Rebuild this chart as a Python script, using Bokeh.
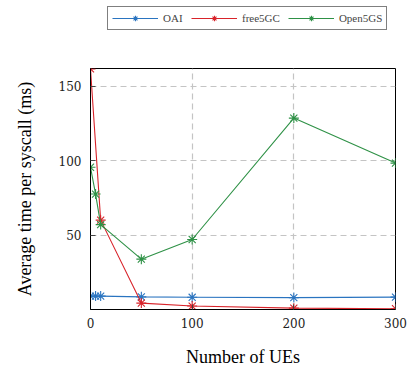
from bokeh.plotting import figure
from bokeh.layouts import column
from bokeh.models import Range1d, Legend, LegendItem, FixedTicker
from bokeh.embed import file_html
from bokeh.resources import INLINE

# Data
oai_x = [0, 5, 10, 50, 100, 200, 300]
oai_y = [9.0, 9.0, 9.0, 8.5, 8.2, 8.0, 8.3]
free_x = [0, 10, 50, 100, 200, 300]
free_y = [161.5, 60.0, 4.3, 2.3, 0.9, 0.5]
open_x = [0, 5, 10, 50, 100, 200, 300]
open_y = [95.5, 77.5, 57.0, 33.8, 47.0, 128.5, 98.3]
x_ticks = [0, 100, 200, 300]
y_ticks = [50, 100, 150]

series = [
    ("OAI", oai_x, oai_y, "#2a74c0"),
    ("free5GC", free_x, free_y, "#d8232a"),
    ("Open5GS", open_x, open_y, "#2e9146"),
]

FONT = "Liberation Serif"
TICKFONT = "DejaVu Serif"
TOP_H = 38

# Main plot
p = figure(width=417, height=369 - TOP_H, output_backend="svg", toolbar_location=None,
           x_range=Range1d(0, 300), y_range=Range1d(0, 161.8),
           min_border_left=90, min_border_right=22, min_border_top=68 - TOP_H,
           min_border_bottom=54)
p.background_fill_color = "white"
p.border_fill_color = "white"
p.outline_line_color = "black"
p.outline_line_width = 1

for name, xs, ys, col in series:
    p.line(xs, ys, line_color=col, line_width=1.1)
    p.scatter(xs, ys, marker="asterisk", size=10, line_color=col, line_width=1.1)

for ax in (p.xaxis[0], p.yaxis[0]):
    ax.axis_line_color = "black"
    ax.major_tick_in = 5
    ax.major_tick_out = 0
    ax.major_tick_line_color = "#444444"
    ax.minor_tick_line_color = None
    ax.major_label_text_font = TICKFONT
    ax.major_label_text_font_size = "12px"
    ax.major_label_text_color = "#222222"
    ax.axis_label_text_font = FONT
    ax.axis_label_text_font_style = "normal"
    ax.axis_label_text_font_size = "18px"
    ax.axis_label_text_color = "black"

p.xaxis[0].ticker = FixedTicker(ticks=x_ticks)
p.yaxis[0].ticker = FixedTicker(ticks=y_ticks)
p.xaxis[0].axis_label = "Number of UEs"
p.yaxis[0].axis_label = "Average time per syscall (ms)"
p.xaxis[0].major_label_standoff = 8
p.yaxis[0].major_label_standoff = 9
p.xaxis[0].axis_label_standoff = 16
p.yaxis[0].axis_label_standoff = 21

p.xgrid.ticker = FixedTicker(ticks=x_ticks)
p.ygrid.ticker = FixedTicker(ticks=y_ticks)
for g in (p.xgrid[0], p.ygrid[0]):
    g.grid_line_color = "#c4c4c4"
    g.grid_line_dash = "6 4"
    g.grid_line_width = 1.2

# Legend strip (renderers kept out of view; only the legend shows).
# Its frame is aligned with the main frame (starts at x=90).
lg = figure(width=417, height=TOP_H, output_backend="svg", toolbar_location=None,
            x_range=Range1d(-1000, -999), y_range=Range1d(-1000, -999),
            x_axis_type=None, y_axis_type=None,
            min_border=0, min_border_left=0, min_border_right=0,
            min_border_top=0, min_border_bottom=0)
lg.outline_line_color = None
lg.grid.visible = False
items = []
for name, xs, ys, col in series:
    l = lg.line(xs, ys, line_color=col, line_width=1.1)
    s = lg.scatter(xs, ys, marker="asterisk", size=10, line_color=col, line_width=1.1)
    items.append(LegendItem(label=name, renderers=[l, s]))

legend = Legend(items=items, orientation="horizontal", location=(17, 8),
                label_text_font=FONT, label_text_font_size="11px",
                glyph_width=46, glyph_height=14, spacing=8, padding=4, margin=0,
                label_standoff=5, border_line_color="black", border_line_width=1,
                background_fill_alpha=1)
lg.add_layout(legend, "center")

layout = column(lg, p, spacing=0)
open("out.html", "w").write(file_html(layout, INLINE))
